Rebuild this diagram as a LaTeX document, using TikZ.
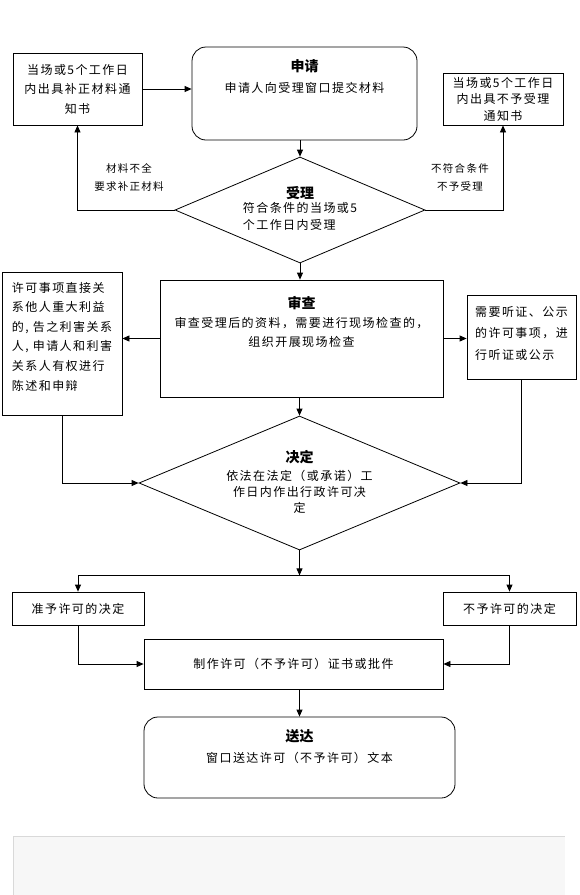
\documentclass[tikz,border=0pt]{standalone}
\usepackage{fontspec}
\newfontfamily\cjk[LetterSpace=12]{Noto Sans CJK SC}
\newfontfamily\cjkhead{Noto Sans CJK SC}
\usetikzlibrary{arrows.meta,positioning,shapes.geometric}

\begin{document}
\begin{tikzpicture}[x=1pt,y=-1pt,->,>={Triangle[length=7pt,width=6pt]},thick,
  box/.style={rectangle,draw,inner sep=0pt},
  round box/.style={box,rounded corners=14pt},
  choice/.style={diamond,draw,inner sep=0pt},
  body/.style={font=\cjk\fontsize{12}{19.5}\selectfont,inner sep=0pt,align=center},
  head/.style={font=\cjkhead\bfseries\fontsize{14}{17}\selectfont,inner sep=0pt},
  note/.style={font=\cjk\fontsize{10.5}{18}\selectfont,inner sep=0pt,align=center}]

  \useasboundingbox (0,0) rectangle (579,895);

  % apply and accept
  \node[box,body,minimum width=129pt,minimum height=72pt] (fixnote) at (77.5,89) {当场或5个工作日\\内出具补正材料通\\知书};
  \node[round box,minimum width=225pt,minimum height=93pt] (apply) at (304.5,93.5) {};
  \node[head] (applyt) [below=13pt of apply.north] {申请};
  \node[body] (applyb) [below=8pt of applyt] {申请人向受理窗口提交材料};
  \node[box,body,font=\cjk\fontsize{12}{16.5}\selectfont,minimum width=120pt,minimum height=52pt] (rejnote) at (503,99) {当场或5个工作日\\内出具不予受理\\通知书};
  \node[choice,minimum width=250pt,minimum height=106pt] (acc) at (300,210) {};
  \node[head] (acct) [below=29pt of acc.north] {受理};
  \node[body,align=left,font=\cjk\fontsize{12}{17}\selectfont] (accb) [below=2pt of acct] {符合条件的当场或5\\个工作日内受理};
  \node[note] (fixlab) at (129,177) {材料不全\\要求补正材料};
  \node[note] (rejlab) at (460,177) {不符合条件\\不予受理};

  % review
  \node[box,minimum width=283pt,minimum height=117pt] (rev) at (301.5,338.5) {};
  \node[head] (revt) [below=16pt of rev.north] {审查};
  \node[body,font=\cjk\fontsize{12}{19}\selectfont] (revb) [below=7pt of revt] {审查受理后的资料，需要进行现场检查的，\\组织开展现场检查};
  \node[box,minimum width=120pt,minimum height=143pt] (impact) at (62,343.5) {};
  \node[body,align=left,font=\cjk\fontsize{12}{19.6}\selectfont] (impactt) [below=10pt of impact.north] {许可事项直接关\\系他人重大利益\\的, 告之利害关系\\人, 申请人和利害\\关系人有权进行\\陈述和申辩};
  \node[box,minimum width=109pt,minimum height=84pt] (hear) at (521.5,337) {};
  \node[body,align=left,font=\cjk\fontsize{12}{21.5}\selectfont] (heart) [below=11pt of hear.north] {需要听证、公示\\的许可事项，进\\行听证或公示};

  % decide
  \node[choice,minimum width=321pt,minimum height=134pt] (dec) at (299.5,483) {};
  \node[head] (dect) [below=34pt of dec.north] {决定};
  \node[body,font=\cjk\fontsize{12}{16}\selectfont] (decb) [below=6pt of dect] {依法在法定（或承诺）工\\作日内作出行政许可决\\定};
  \coordinate[below=25pt of dec.south] (split);
  \node[box,body,minimum width=132pt,minimum height=33pt] (grant) at (78,608.5) {准予许可的决定};
  \node[box,body,minimum width=133pt,minimum height=33pt] (deny) at (509.5,608.5) {不予许可的决定};
  \node[box,body,minimum width=299pt,minimum height=50pt] (make) at (293.5,664) {制作许可（不予许可）证书或批件};
  \node[round box,minimum width=311pt,minimum height=81pt] (deliver) at (299.5,757.5) {};
  \node[head] (delivert) [below=13pt of deliver.north] {送达};
  \node[body] (deliverb) [below=8pt of delivert] {窗口送达许可（不予许可）文本};

  \path
  (fixnote.east) edge (fixnote.east -| apply.west)
  (apply.south -| acc.north) edge (acc.north)
  (acc.south) edge (acc.south |- rev.north)
  (rev.west) edge (rev.west -| impact.east)
  (rev.east) edge (rev.east -| hear.west)
  (rev.south -| dec.north) edge (dec.north)
  (dec.south) edge (split)
  (make.south -| deliver.north) edge (deliver.north);

  \draw (acc.west) -| (fixnote.south);
  \draw (acc.east) -| (rejnote.south);
  \draw (impact.south) |- (dec.west);
  \draw (hear.south) |- (dec.east);
  \draw (split) -| (grant.north);
  \draw (split) -| (deny.north);
  \draw (grant.south) |- (make.west);
  \draw (deny.south) |- (make.east);

  % page footer strip
  \fill[-,black!3] (13,836) rectangle (565,895);
  \draw[-,thin,black!15] (13,895) -- (13,836) -- (565,836);

\end{tikzpicture}
\end{document}
